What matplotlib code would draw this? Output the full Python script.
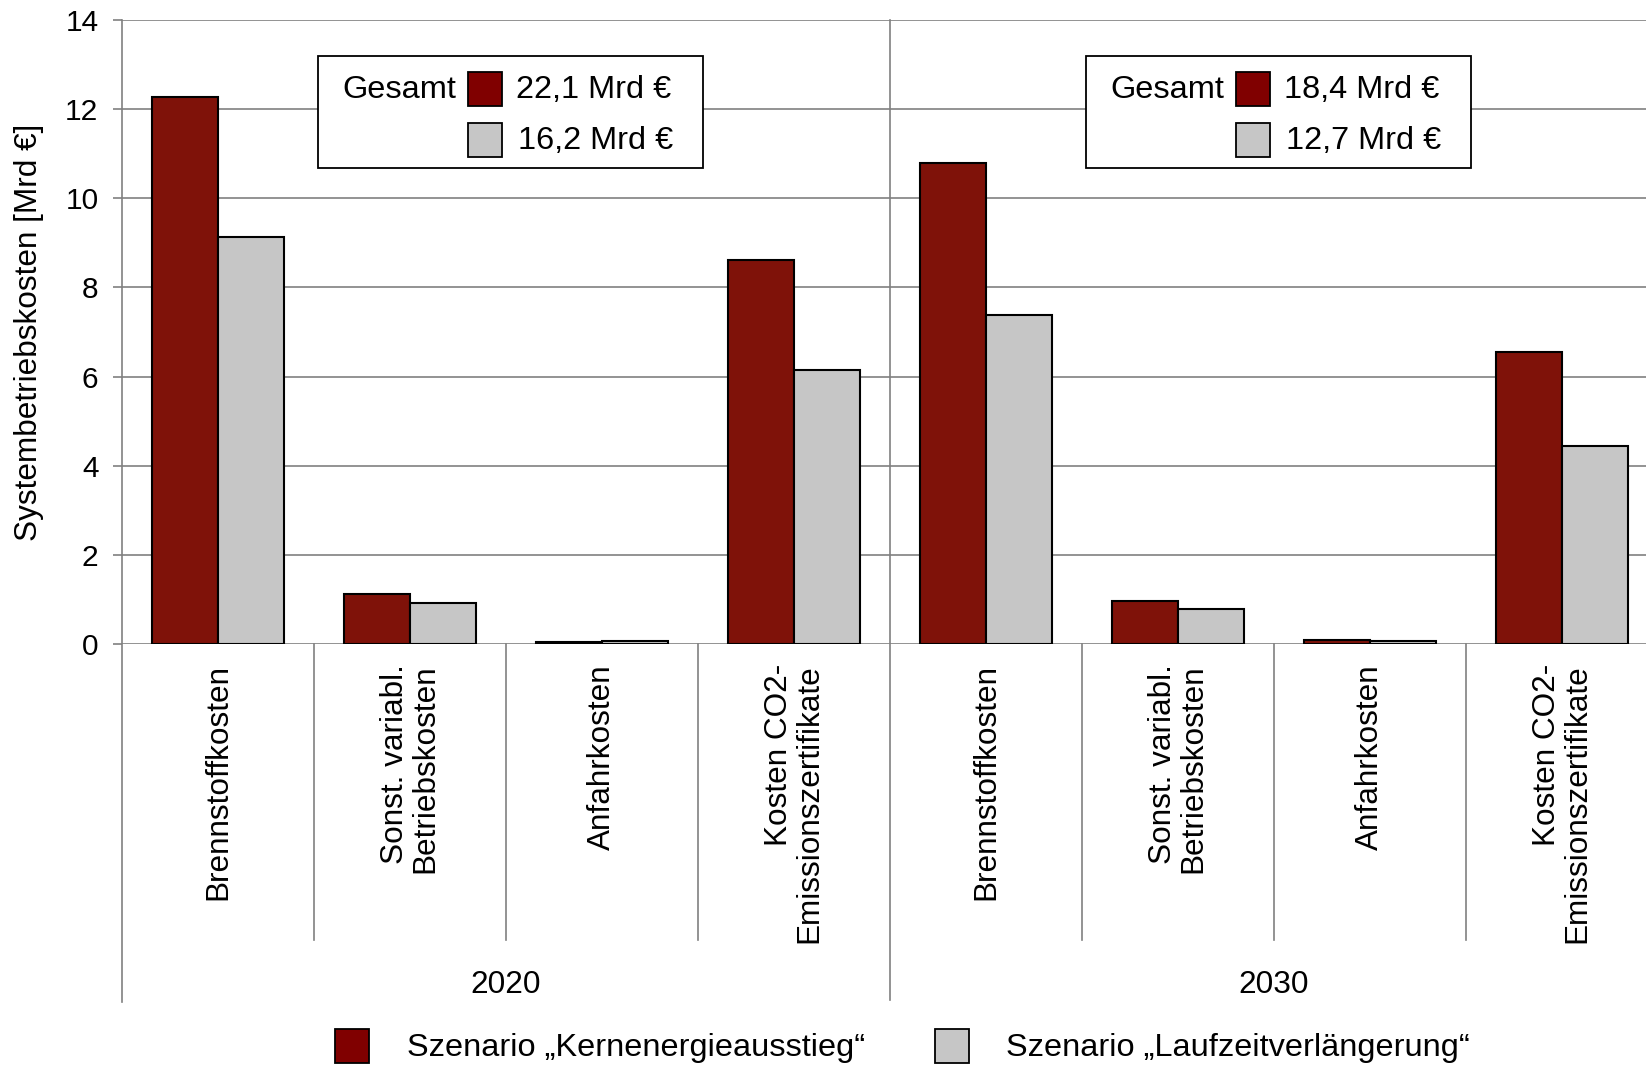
import matplotlib
matplotlib.use("Agg")
import matplotlib.pyplot as plt
import matplotlib.transforms as mtransforms
from matplotlib.patches import Rectangle
from matplotlib.lines import Line2D

plt.rcParams["font.family"] = ["Liberation Sans", "DejaVu Sans"]

# --- data -------------------------------------------------------------
years = ["2020", "2030"]
categories = [
    "Brennstoffkosten",
    "Sonst. variabl.\nBetriebskosten",
    "Anfahrkosten",
    "Kosten CO2-\nEmissionszertifikate",
]
series_names = ["Szenario „Kernenergieausstieg“", "Szenario „Laufzeitverlängerung“"]
# values per year, in category order [Mrd €]
ausstieg_2020 = [12.27, 1.13, 0.05, 8.61]
laufzeit_2020 = [9.13, 0.91, 0.06, 6.14]
ausstieg_2030 = [10.80, 0.97, 0.09, 6.56]
laufzeit_2030 = [7.38, 0.79, 0.06, 4.45]
totals_ausstieg = ["22,1 Mrd €", "18,4 Mrd €"]
totals_laufzeit = ["16,2 Mrd €", "12,7 Mrd €"]
y_ticks = [0, 2, 4, 6, 8, 10, 12, 14]

# --- styling ----------------------------------------------------------
RED = "#7F1209"
RED_KEY = "#800000"
GREY = "#C6C6C6"
LINE = "#808080"
FS = 22.7
FS_KEY = 23.4

W, H = 1646, 1068
fig = plt.figure(figsize=(W / 100, H / 100), dpi=100)


def fx(px):
    return px / W


def fy(py):
    return 1 - py / H


# plot area spans two groups of four categories; the right end runs past the canvas
ax = fig.add_axes([fx(122), fy(644), fx(1658 - 122), (644 - 20) / H])

red_vals = ausstieg_2020 + ausstieg_2030
grey_vals = laufzeit_2020 + laufzeit_2030
n = len(red_vals)
xs = list(range(n))
bw = 0.344

ax.bar([x - bw / 2 for x in xs], red_vals, bw, color=RED, edgecolor="black",
       linewidth=1.5, zorder=3)
ax.bar([x + bw / 2 for x in xs], grey_vals, bw, color=GREY, edgecolor="black",
       linewidth=1.5, zorder=3)

ax.set_xlim(-0.5, n - 0.5)
ax.set_ylim(0, 14)
ax.set_yticks(y_ticks)
ax.set_xticks([])
ax.yaxis.grid(True, color=LINE, linewidth=1.2)
ax.set_axisbelow(True)
for s in ("top", "right", "bottom", "left"):
    ax.spines[s].set_visible(False)
ax.tick_params(axis="y", direction="out", length=6.5, width=1.2, color=LINE,
               pad=10.5, labelsize=21.5)

trans = mtransforms.blended_transform_factory(ax.transData, fig.transFigure)

# left axis line, running down past the category labels
fig.add_artist(Line2D([-0.5, -0.5], [fy(20), fy(1002)], transform=trans,
                      color=LINE, linewidth=1.2))
# separator between the two years
fig.add_artist(Line2D([3.5, 3.5], [fy(20), fy(1000)], transform=trans,
                      color=LINE, linewidth=1.2))
# separators between the categories
for g in range(len(years)):
    for k in range(1, len(categories)):
        xpos = g * len(categories) + k - 0.5
        fig.add_artist(Line2D([xpos, xpos], [fy(644), fy(940)], transform=trans,
                              color=LINE, linewidth=1.2))

# category labels
for g in range(len(years)):
    for k, cat in enumerate(categories):
        xpos = g * len(categories) + k
        ax.text(xpos, fy(664), cat, transform=trans, rotation=90, ha="center",
                va="top", multialignment="right", fontsize=FS, linespacing=1.0)
    ax.text(g * len(categories) + (len(categories) - 1) / 2, fy(993), years[g],
            transform=trans, ha="center", va="baseline", fontsize=FS)

# y-axis title
fig.text(fx(29), fy(332), "Systembetriebskosten [Mrd €]", rotation=90,
         ha="center", va="center", fontsize=FS)

# total-cost boxes per year
for g in range(len(years)):
    x0 = 122 + 768 * g
    fig.add_artist(Rectangle((fx(x0 + 196), fy(168)), fx(385), 112 / H,
                             transform=fig.transFigure, facecolor="white",
                             edgecolor="black", linewidth=1.3, zorder=5))
    fig.text(fx(x0 + 220), fy(98), "Gesamt", ha="left", va="baseline",
             fontsize=FS_KEY, zorder=6)
    fig.add_artist(Rectangle((fx(x0 + 346), fy(106)), fx(34), 34 / H,
                             transform=fig.transFigure, facecolor=RED_KEY,
                             edgecolor="black", linewidth=1.3, zorder=6))
    fig.add_artist(Rectangle((fx(x0 + 346), fy(157)), fx(34), 34 / H,
                             transform=fig.transFigure, facecolor=GREY,
                             edgecolor="black", linewidth=1.3, zorder=6))
    fig.text(fx(x0 + 394), fy(98), totals_ausstieg[g], ha="left",
             va="baseline", fontsize=FS_KEY, zorder=6)
    fig.text(fx(x0 + 396), fy(149), totals_laufzeit[g], ha="left",
             va="baseline", fontsize=FS_KEY, zorder=6)

# series legend at the bottom
for (sx, tx), name, col in zip([(335, 407), (935, 1006)], series_names,
                               [RED_KEY, GREY]):
    fig.add_artist(Rectangle((fx(sx), fy(1063)), fx(34), 34 / H,
                             transform=fig.transFigure, facecolor=col,
                             edgecolor="black", linewidth=1.3))
    fig.text(fx(tx), fy(1056), name, ha="left", va="baseline", fontsize=FS_KEY)

fig.savefig("out.png", dpi=100)
